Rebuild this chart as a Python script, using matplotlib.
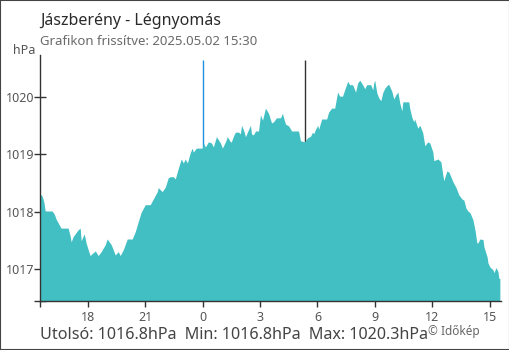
import matplotlib.pyplot as plt
from matplotlib.patches import Rectangle

plt.rcParams['font.family'] = ['Noto Sans', 'DejaVu Sans']

# hours relative to midnight (15:30 previous day .. 15:30)
hours = [-8.50, -8.39, -8.34, -8.29, -8.23, -7.87, -7.76, -7.66, -7.55, -7.40,
         -7.03, -6.93, -6.87, -6.77, -6.66, -6.51, -6.40, -6.35, -6.19, -6.09,
         -5.98, -5.88, -5.72, -5.61, -5.46, -5.30, -5.09, -4.99, -4.78, -4.67,
         -4.57, -4.41, -4.31, -4.15, -4.05, -3.94, -3.68, -3.52, -3.37, -3.21,
         -3.00, -2.74, -2.58, -2.37, -2.32, -2.21, -2.11, -1.95, -1.80, -1.69,
         -1.53, -1.43, -1.27, -1.12, -1.01, -0.91, -0.80, -0.64, -0.54, -0.49,
         -0.33, -0.02, 0.04, 0.14, 0.30, 0.46, 0.56, 0.72, 0.93, 1.03,
         1.19, 1.29, 1.45, 1.50, 1.61, 1.71, 1.87, 1.97, 2.03, 2.13,
         2.24, 2.39, 2.50, 2.55, 2.65, 2.76, 2.92, 3.02, 3.13, 3.28,
         3.44, 3.60, 3.70, 3.86, 4.07, 4.17, 4.23, 4.33, 4.49, 4.65,
         5.01, 5.11, 5.32, 5.48, 5.64, 5.74, 5.80, 5.90, 6.01, 6.06,
         6.22, 6.48, 6.58, 6.74, 6.90, 7.05, 7.16, 7.31, 7.42, 7.58,
         7.68, 7.84, 7.99, 8.10, 8.21, 8.36, 8.47, 8.57, 8.78, 8.89,
         8.94, 8.99, 9.10, 9.20, 9.31, 9.41, 9.52, 9.67, 9.73, 9.88,
         9.99, 10.09, 10.20, 10.30, 10.41, 10.46, 10.77, 10.82, 10.93, 11.03,
         11.08, 11.24, 11.35, 11.50, 11.61, 11.76, 11.87, 12.03, 12.08, 12.29,
         12.45, 12.55, 12.60, 12.76, 12.87, 13.08, 13.24, 13.39, 13.55, 13.65,
         13.76, 13.86, 13.97, 14.12, 14.23, 14.33, 14.38, 14.49, 14.65, 14.70,
         14.86, 14.91, 15.01, 15.17, 15.22, 15.33, 15.43, 15.48, 15.53]

pressure = [1018.31, 1018.27, 1018.22, 1018.15, 1018.01, 1018.01, 1017.96, 1017.87, 1017.80, 1017.71,
            1017.71, 1017.58, 1017.47, 1017.56, 1017.61, 1017.68, 1017.71, 1017.49, 1017.61, 1017.45,
            1017.33, 1017.23, 1017.28, 1017.31, 1017.23, 1017.30, 1017.42, 1017.52, 1017.42, 1017.33,
            1017.24, 1017.30, 1017.23, 1017.33, 1017.42, 1017.52, 1017.52, 1017.65, 1017.82, 1017.99,
            1018.12, 1018.12, 1018.22, 1018.35, 1018.42, 1018.38, 1018.35, 1018.43, 1018.59, 1018.61,
            1018.61, 1018.57, 1018.76, 1018.92, 1018.85, 1018.92, 1018.85, 1019.04, 1019.11, 1019.04,
            1019.11, 1019.11, 1019.20, 1019.13, 1019.22, 1019.20, 1019.13, 1019.31, 1019.20, 1019.11,
            1019.22, 1019.31, 1019.22, 1019.22, 1019.32, 1019.39, 1019.39, 1019.36, 1019.51, 1019.43,
            1019.31, 1019.43, 1019.51, 1019.36, 1019.34, 1019.41, 1019.41, 1019.69, 1019.60, 1019.81,
            1019.72, 1019.55, 1019.57, 1019.64, 1019.64, 1019.72, 1019.64, 1019.53, 1019.50, 1019.41,
            1019.41, 1019.24, 1019.22, 1019.29, 1019.32, 1019.39, 1019.36, 1019.44, 1019.51, 1019.44,
            1019.62, 1019.62, 1019.74, 1019.81, 1019.81, 1020.09, 1020.02, 1020.02, 1020.13, 1020.28,
            1020.22, 1020.22, 1020.09, 1020.25, 1020.30, 1020.22, 1020.15, 1020.22, 1020.22, 1020.13,
            1020.25, 1020.30, 1020.08, 1019.99, 1019.94, 1020.08, 1020.16, 1020.22, 1020.22, 1020.11,
            1019.97, 1020.04, 1020.09, 1019.90, 1019.76, 1019.92, 1019.92, 1019.81, 1019.65, 1019.57,
            1019.62, 1019.46, 1019.51, 1019.38, 1019.15, 1019.22, 1019.20, 1019.04, 1018.89, 1018.92,
            1018.87, 1018.64, 1018.54, 1018.71, 1018.69, 1018.52, 1018.42, 1018.29, 1018.22, 1018.20,
            1018.06, 1018.01, 1017.98, 1017.86, 1017.68, 1017.45, 1017.45, 1017.52, 1017.51, 1017.38,
            1017.21, 1017.10, 1017.03, 1016.98, 1016.93, 1017.02, 1016.95, 1016.83, 1016.83]

xtick_pos = [-6, -3, 0, 3, 6, 9, 12, 15]
xtick_labels = ['18', '21', '0', '3', '6', '9', '12', '15']
ytick_pos = [1017, 1018, 1019, 1020]
midnight = 0.0
sunrise = 5.33

fill_color = '#41bfc2'
axis_color = '#333333'
blue = '#1f8fe0'

fig = plt.figure(figsize=(5.1, 3.5), dpi=100)
ax = fig.add_axes([40 / 510, 1 - 300.7 / 350, 461 / 510, 245.7 / 350])

ymin, ymax = 1016.44, 1020.74
ax.set_xlim(-8.5, 15.59)
ax.set_ylim(ymin, ymax)

l1 = ax.vlines([midnight], ymin, 1020.65, color=blue, lw=1, zorder=1)
l2 = ax.vlines([sunrise], ymin, 1020.65, color='#333333', lw=1, zorder=1)
l1.set_snap(True)
l2.set_snap(True)
ax.fill_between(hours, pressure, ymin, color=fill_color, lw=0, zorder=2)

for s in ['top', 'right']:
    ax.spines[s].set_visible(False)
for s in ['left', 'bottom']:
    ax.spines[s].set_color(axis_color)
    ax.spines[s].set_linewidth(1)

ax.set_yticks([ymin] + ytick_pos)
ax.set_yticklabels([''] + [str(v) for v in ytick_pos])
ax.tick_params(axis='y', direction='inout', length=8.6, width=1, color=axis_color,
               labelcolor='#555555', labelsize=9, pad=-0.5)

ax.set_xticks([-8.5] + xtick_pos)
ax.set_xticklabels([''] + xtick_labels)
ax.tick_params(axis='x', direction='out', length=4.5, width=1, color=axis_color,
               labelcolor='#555555', labelsize=9, pad=3)
ax.xaxis.get_major_ticks()[3].tick1line.set_color(blue)

fig.text(40 / 510, 1 - 25 / 350, 'Jászberény - Légnyomás', fontsize=11.5,
         color='#2a2a2a', va='baseline')
fig.text(40 / 510, 1 - 45 / 350, 'Grafikon frissítve: 2025.05.02 15:30', fontsize=9.5,
         color='#6a6a6a', va='baseline')
fig.text(35 / 510, 1 - 54 / 350, 'hPa', fontsize=9, color='#555555',
         va='baseline', ha='right')
fig.text(40 / 510, 1 - 339 / 350, 'Utolsó: 1016.8hPa  Min: 1016.8hPa  Max: 1020.3hPa',
         fontsize=11.6, color='#444444', va='baseline')
fig.text(428 / 510, 1 - 335 / 350, '© Időkép', fontsize=8.5, color='#666666',
         va='baseline')

fig.patches.append(Rectangle((0, 0), 1, 1, transform=fig.transFigure, fill=False,
                             edgecolor='#444444', lw=1.5))

fig.savefig('out.png', dpi=100)
